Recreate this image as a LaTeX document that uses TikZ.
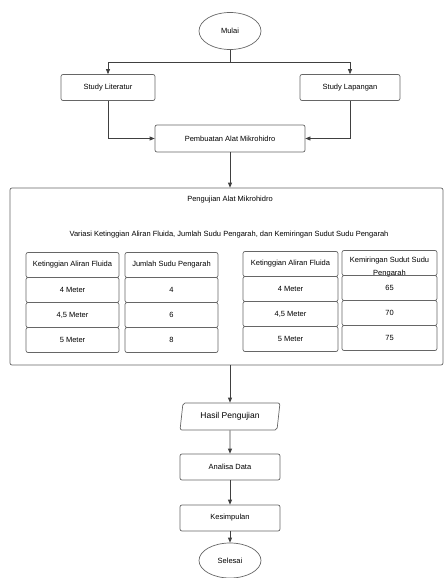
\documentclass[tikz,border=0pt]{standalone}
\usepackage{fontspec}
\setmainfont{Liberation Sans}
\usetikzlibrary{shapes.geometric,arrows.meta}

\tikzset{
  garis/.style={draw=black!75, line width=0.7pt},
  panah/.style={garis, -{Triangle[length=5pt,width=4pt]}},
  kotak/.style={draw=black!60, line width=0.7pt, rounded corners=2pt,
    minimum width=94, minimum height=26, inner sep=1pt,
    font=\fontsize{7.5}{9}\selectfont},
  sel/.style={kotak, minimum width=93, minimum height=25},
  terminal/.style={ellipse, draw=black!60, line width=0.7pt,
    minimum width=62, minimum height=37, inner sep=1pt,
    font=\fontsize{7.5}{9}\selectfont},
  data/.style={trapezium, trapezium left angle=79, trapezium right angle=101,
    trapezium stretches=true,
    draw=black!60, line width=0.7pt, rounded corners=2pt,
    minimum width=100, minimum height=27, inner sep=1pt,
    font=\fontsize{8.5}{10}\selectfont},
  teks/.style={font=\fontsize{7.5}{9}\selectfont, inner sep=1pt}
}

\begin{document}
\begin{tikzpicture}[x=1pt, y=-1pt]
  \useasboundingbox (0,0) rectangle (445,578);

  \node[terminal] (mulai) at (230,31) {Mulai};
  \coordinate (cabang) at (230,62);
  \node[kotak] (literatur) at (108,87.5) {Study Literatur};
  \node[kotak, minimum width=100] (lapangan) at (350,87.5) {Study Lapangan};
  \node[kotak, minimum width=150, minimum height=27] (buat) at (230,138.5) {Pembuatan Alat Mikrohidro};

  % blok pengujian
  \node[kotak, minimum width=433, minimum height=177] (uji) at (226.5,276.5) {};
  \node[teks] (judul) at (230,200) {Pengujian Alat Mikrohidro};
  \node[teks] (variasi) at (229,235) {Variasi Ketinggian Aliran Fluida, Jumlah Sudu Pengarah, dan Kemiringan Sudut Sudu Pengarah};

  \node[sel] (ta0) at (72.5,265) {Ketinggian Aliran Fluida};
  \node[sel] (ja0) at (171.5,265) {Jumlah Sudu Pengarah};
  \node[sel, minimum width=95] (tb0) at (290.5,264) {Ketinggian Aliran Fluida};
  \node[sel, minimum width=95] (kb0) at (389.5,263) {};
  \node[teks, align=center] at (389.5,267) {Kemiringan Sudut Sudu\\[3.5pt]Pengarah};
  \foreach \y/\tinggi/\jumlah/\sudut [count=\i] in
      {290/4 Meter/4/65, 315/{4,5 Meter}/6/70, 340/5 Meter/8/75} {
    \node[sel] (ta\i) at (72.5,\y) {\tinggi};
    \node[sel] (ja\i) at (171.5,\y) {\jumlah};
    \node[sel, minimum width=95] (tb\i) at (290.5,\y-1) {\tinggi};
    \node[sel, minimum width=95] (kb\i) at (389.5,\y-2) {\sudut};
  }

  \node[data] (hasil) at (230,416.5) {Hasil Pengujian};
  \node[kotak, minimum width=100] (analisa) at (230,467) {Analisa Data};
  \node[kotak, minimum width=100] (simpul) at (230,518) {Kesimpulan};
  \node[terminal, minimum height=35] (selesai) at (230,560.5) {Selesai};

  % alur
  \draw[garis] (mulai.south) -- (cabang);
  \draw[panah] (cabang) -| (literatur.north);
  \draw[panah] (cabang) -| (lapangan.north);
  \draw[panah] (literatur.south) |- (buat.west);
  \draw[panah] (lapangan.south) |- (buat.east);
  \draw[panah] (buat.south) -- (buat.south |- uji.north);
  \draw[panah] (hasil.north |- uji.south) -- (hasil.north);
  \draw[panah] (hasil.south) -- (analisa.north);
  \draw[panah] (analisa.south) -- (simpul.north);
  \draw[panah] (simpul.south) -- (selesai.north);
\end{tikzpicture}
\end{document}
